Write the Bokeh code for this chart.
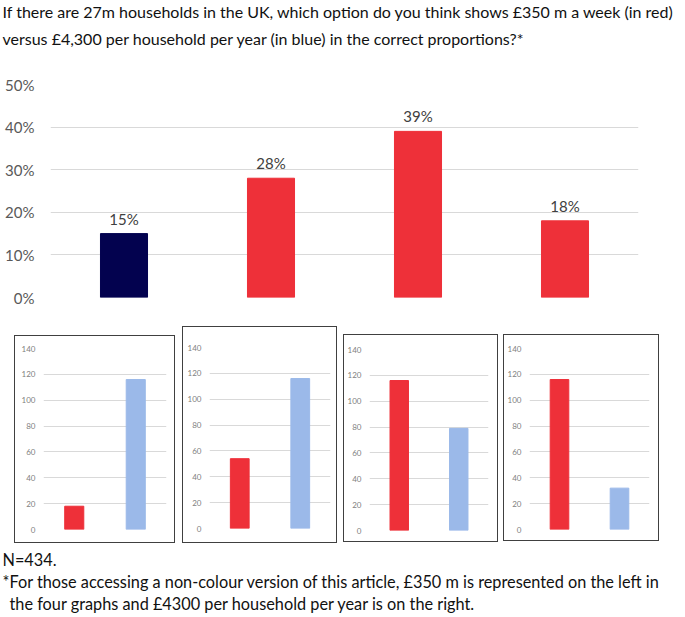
from bokeh.plotting import figure
from bokeh.models import Range1d, FactorRange, ColumnDataSource, Spacer, FixedTicker, LabelSet
from bokeh.layouts import column, row
from bokeh.embed import file_html
from bokeh.resources import INLINE
from bokeh.core.properties import value

FONT = "Lato"

# ---------------- data ----------------
title_lines = [
    "If there are 27m households in the UK, which option do you think shows £350 m a week (in red)",
    "versus £4,300 per household per year (in blue) in the correct proportions?*",
]
options = ["Option 1", "Option 2", "Option 3", "Option 4"]
pct_chosen = [15, 28, 39, 18]
pct_labels = ["15%", "28%", "39%", "18%"]
bar_colors = ["#03024F", "#EE3039", "#EE3039", "#EE3039"]
pct_ticks = [0, 10, 20, 30, 40, 50]

pair_labels = ["£350 m a week", "£4,300 per household per year"]
pair_colors = ["#EE3039", "#9BB9E9"]
red_values = [18, 54, 116, 116]
blue_values = [116, 116, 79, 32]
small_ticks = [0, 20, 40, 60, 80, 100, 120, 140]

footer_lines = [
    "N=434.",
    "*For those accessing a non-colour version of this article, £350 m is represented on the left in",
    "the four graphs and £4300 per household per year is on the right.",
]

W = 685
FL, FR = 50, 638  # main frame left/right on the page


def text_fig(lines, h, xs, ys, size):
    p = figure(width=W, height=h, x_range=Range1d(0, W), y_range=Range1d(0, h),
               x_axis_type=None, y_axis_type=None, toolbar_location=None, tools="",
               output_backend="svg", min_border=0, outline_line_color=None,
               frame_align=False)
    p.grid.visible = False
    src = ColumnDataSource(dict(x=xs, y=[h - y for y in ys], t=lines))
    p.text("x", "y", text="t", source=src, text_font=value(FONT), text_font_size=size,
           text_color="#111111", text_baseline="middle", text_align="left")
    return p


title_fig = text_fig(title_lines, 58, [2, 2], [11, 38], "16px")

# ---------------- main chart ----------------
pm = figure(width=W, height=264, x_range=FactorRange(*options), y_range=Range1d(0, 50),
            toolbar_location=None, tools="", output_backend="svg",
            min_border_left=FL, min_border_right=W - FR, min_border_top=26, min_border_bottom=25,
            outline_line_color=None, frame_align=False)
src = ColumnDataSource(dict(x=options, y=pct_chosen, c=bar_colors, lab=pct_labels))
pm.vbar(x="x", top="y", width=0.32, fill_color="c", line_color="c", source=src)
pm.add_layout(LabelSet(x="x", y="y", text="lab", source=src, y_offset=6,
                       text_align="center", text_baseline="bottom",
                       text_font=value(FONT), text_font_size="15px", text_color="#404040"))
pm.xaxis.visible = False
pm.xgrid.visible = False
pm.yaxis.ticker = FixedTicker(ticks=pct_ticks)
pm.ygrid.ticker = FixedTicker(ticks=pct_ticks)
pm.yaxis.major_label_overrides = {t: f"{t}%" for t in pct_ticks}
pm.yaxis.axis_line_color = None
pm.yaxis.major_tick_line_color = None
pm.yaxis.major_tick_out = 0
pm.yaxis.minor_tick_line_color = None
pm.yaxis.minor_tick_out = 0
pm.yaxis.major_label_standoff = 16
pm.yaxis.major_label_text_font = FONT
pm.yaxis.major_label_text_font_size = "15px"
pm.yaxis.major_label_text_color = "#595959"
pm.ygrid.grid_line_color = "#D9D9D9"


# ---------------- small charts ----------------
def small_fig(i, w, h, left, right, top, bottom):
    p = figure(width=w, height=h, x_range=FactorRange(*pair_labels), y_range=Range1d(0, 140),
               toolbar_location=None, tools="", output_backend="svg",
               min_border_left=left, min_border_right=right, min_border_top=top,
               min_border_bottom=bottom, frame_align=False,
               outline_line_color=None, styles={"border": "1px solid #404040"})
    s = ColumnDataSource(dict(x=pair_labels, y=[red_values[i], blue_values[i]], c=pair_colors))
    p.vbar(x="x", top="y", width=0.31, fill_color="c", line_color="c", source=s)
    p.xaxis.visible = False
    p.xgrid.visible = False
    p.yaxis.ticker = FixedTicker(ticks=small_ticks)
    p.ygrid.ticker = FixedTicker(ticks=small_ticks)
    p.yaxis.axis_line_color = None
    p.yaxis.major_tick_line_color = None
    p.yaxis.major_tick_out = 0
    p.yaxis.minor_tick_line_color = None
    p.yaxis.minor_tick_out = 0
    p.yaxis.major_label_standoff = 8
    p.yaxis.major_label_text_font = FONT
    p.yaxis.major_label_text_font_size = "8px"
    p.yaxis.major_label_text_color = "#808080"
    p.ygrid.grid_line_color = "#D9D9D9"
    return p


s1 = small_fig(0, 161, 208, 28, 10, 12, 15)
s2 = small_fig(1, 155, 217, 26, 8, 20, 16)
s3 = small_fig(2, 155, 208, 22, 11, 14, 13)
s4 = small_fig(3, 156, 207, 24, 11, 13, 13)

small_row = row(
    Spacer(width=14), column(Spacer(height=9), s1),
    Spacer(width=7), s2,
    Spacer(width=6), column(Spacer(height=8), s3),
    Spacer(width=5), column(Spacer(height=8), s4),
)

footer_fig = text_fig(footer_lines, 70, [2, 2, 9], [16, 38, 60], "16.3px")

layout = column(title_fig, pm, Spacer(height=4), small_row, footer_fig)

open("out.html", "w").write(file_html(layout, INLINE))
